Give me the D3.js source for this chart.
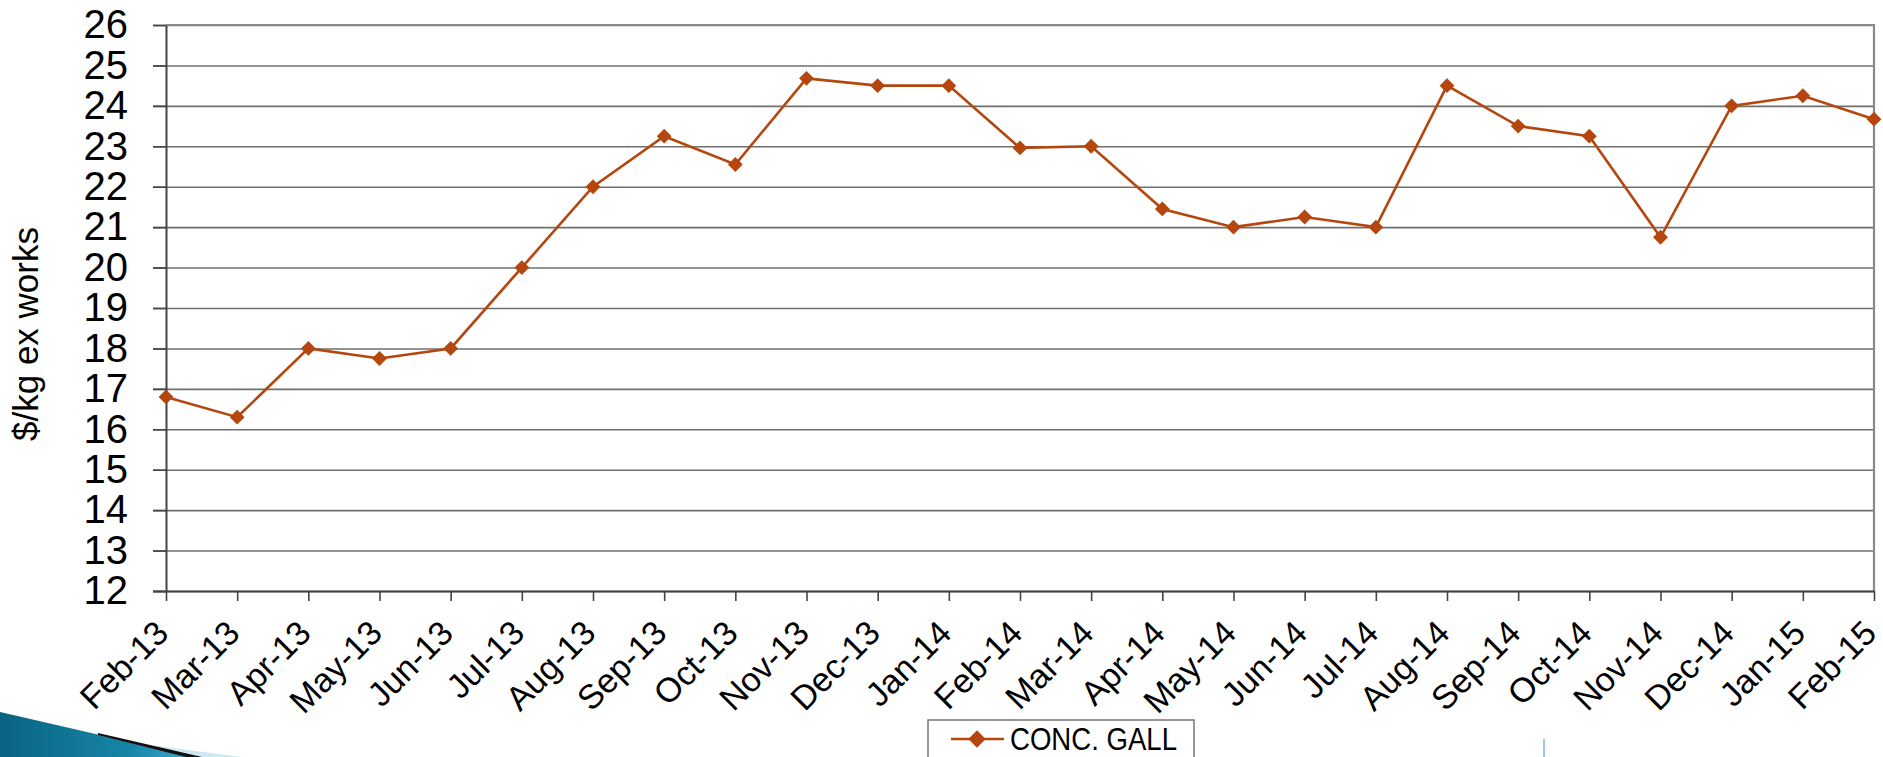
<!DOCTYPE html>
<html>
<head>
<meta charset="utf-8">
<script src="https://cdn.jsdelivr.net/npm/d3@7"></script>
<style>
  body { margin: 0; background: #fff; }
  svg { display: block; font-family: "Liberation Sans", Arial, sans-serif; }
</style>
</head>
<body>
<svg id="viz"></svg>
<script>
// ----------------------------------------------------------------------------------------------------------------
// DATA

var months = ["Feb-13", "Mar-13", "Apr-13", "May-13", "Jun-13", "Jul-13", "Aug-13", "Sep-13", "Oct-13",
  "Nov-13", "Dec-13", "Jan-14", "Feb-14", "Mar-14", "Apr-14", "May-14", "Jun-14", "Jul-14", "Aug-14",
  "Sep-14", "Oct-14", "Nov-14", "Dec-14", "Jan-15", "Feb-15"];

var concGall = [16.8, 16.3, 18.0, 17.75, 18.0, 20.0, 22.0, 23.25, 22.55,
  24.68, 24.5, 24.5, 22.96, 23.0, 21.45, 21.0, 21.25, 21.0, 24.5,
  23.5, 23.25, 20.75, 24.0, 24.25, 23.67];

var yTicks = [12, 13, 14, 15, 16, 17, 18, 19, 20, 21, 22, 23, 24, 25, 26];

var seriesName = "CONC. GALL";
var yTitle = "$/kg ex works";

// ----------------------------------------------------------------------------------------------------------------

(function() {

  // ----------------------------------------------------------------------------------------------------------------
  // INITIAL SETUP

  var w = 1883;
  var h = 757;
  var pLeft = 166, pRight = 1874, pTop = 25, pBottom = 591;
  var lineColor = "#b4460e";

  var viz = d3.select("#viz").attr("width", w).attr("height", h);

  var x = d3.scalePoint().domain(months).range([pLeft, pRight]);
  var y = d3.scaleLinear().domain([12, 26]).range([pBottom, pTop]);

  // ----------------------------------------------------------------------------------------------------------------
  // DECORATION (slide swoosh, bottom left)

  var defs = viz.append("defs");
  var grad = defs.append("linearGradient").attr("id", "swoosh")
    .attr("x1", "0").attr("y1", "0").attr("x2", "1").attr("y2", "0");
  grad.append("stop").attr("offset", "0").attr("stop-color", "#0a6282");
  grad.append("stop").attr("offset", "0.7").attr("stop-color", "#1786a8");
  grad.append("stop").attr("offset", "1").attr("stop-color", "#3aa6c6");

  viz.append("path")
    .attr("d", "M0,712 L100,735 L188,757 L0,757 Z")
    .attr("fill", "url(#swoosh)");
  viz.append("path")
    .attr("d", "M150,745 L242,757 L196,757 Z")
    .attr("fill", "#cbe9f3");
  viz.append("path")
    .attr("d", "M98,733 L202,757 L186,757 L98,735 Z")
    .attr("fill", "#111");

  viz.append("line")
    .attr("x1", 1544).attr("x2", 1544).attr("y1", 739).attr("y2", 757)
    .attr("stroke", "#9cc8e8").attr("stroke-width", 2);

  // ----------------------------------------------------------------------------------------------------------------
  // AXES AND GRID

  // horizontal grid lines
  viz.append("g")
    .attr("transform", "translate(" + pRight + ",0)")
    .call(d3.axisLeft(y).tickValues(yTicks).tickSize(pRight - 153).tickFormat(""))
    .call(function(g) {
      g.select(".domain").remove();
      g.selectAll(".tick line").attr("stroke", "#6f6f6f").attr("stroke-width", 1.6);
    });

  // frame top + right
  viz.append("path")
    .attr("d", "M" + pLeft + "," + pTop + " H" + pRight + " V" + pBottom)
    .attr("fill", "none").attr("stroke", "#8a8a8a").attr("stroke-width", 2.2);

  // y axis
  viz.append("g")
    .attr("transform", "translate(" + pLeft + ",0)")
    .call(d3.axisLeft(y).tickValues(yTicks).tickSize(13).tickPadding(25).tickSizeOuter(0))
    .call(function(g) {
      g.select(".domain").attr("stroke", "#444").attr("stroke-width", 2);
      g.selectAll(".tick line").attr("stroke", "#444").attr("stroke-width", 1.6);
      g.selectAll(".tick text")
        .attr("fill", "#000")
        .style("font-size", "40px")
        .style("font-family", "'Liberation Sans', Arial, sans-serif");
    });

  // x axis
  viz.append("g")
    .attr("transform", "translate(0," + pBottom + ")")
    .call(d3.axisBottom(x).tickSize(10).tickSizeOuter(0))
    .call(function(g) {
      g.select(".domain").attr("stroke", "#444").attr("stroke-width", 2)
        .attr("d", "M153,0.5H" + pRight);
      g.selectAll(".tick line").attr("stroke", "#444").attr("stroke-width", 1.6);
      g.selectAll(".tick text")
        .attr("fill", "#000")
        .attr("x", null).attr("y", null).attr("dy", null)
        .attr("text-anchor", "end")
        .attr("transform", "translate(4,44) rotate(-45)")
        .style("font-size", "34px")
        .style("font-family", "'Liberation Sans', Arial, sans-serif");
    });

  // y axis title
  viz.append("text")
    .attr("transform", "translate(38,334) rotate(-90)")
    .attr("text-anchor", "middle")
    .style("font-size", "35px")
    .text(yTitle);

  // ----------------------------------------------------------------------------------------------------------------
  // SERIES

  var line = d3.line()
    .x(function(d, i) { return x(months[i]); })
    .y(function(d) { return y(d); });

  viz.append("path")
    .datum(concGall)
    .attr("d", line)
    .attr("fill", "none")
    .attr("stroke", lineColor)
    .attr("stroke-width", 2.6);

  var diamond = d3.symbol().type(d3.symbolSquare).size(110);

  viz.selectAll("path.marker")
    .data(concGall)
    .enter()
    .append("path")
    .attr("class", "marker")
    .attr("d", diamond)
    .attr("transform", function(d, i) {
      return "translate(" + x(months[i]) + "," + y(d) + ") rotate(45)";
    })
    .attr("fill", lineColor);

  // ----------------------------------------------------------------------------------------------------------------
  // LEGEND

  var legend = viz.append("g");
  legend.append("rect")
    .attr("x", 928).attr("y", 720).attr("width", 266).attr("height", 50)
    .attr("fill", "#fff").attr("stroke", "#777").attr("stroke-width", 1.5);
  legend.append("line")
    .attr("x1", 951).attr("x2", 1004).attr("y1", 739).attr("y2", 739)
    .attr("stroke", lineColor).attr("stroke-width", 2.6);
  legend.append("path")
    .attr("d", d3.symbol().type(d3.symbolSquare).size(150))
    .attr("transform", "translate(977,739) rotate(45)")
    .attr("fill", lineColor);
  legend.append("text")
    .attr("x", 1010).attr("y", 750)
    .attr("textLength", 167).attr("lengthAdjust", "spacingAndGlyphs")
    .style("font-size", "32px")
    .text(seriesName);

})();
</script>
</body>
</html>
